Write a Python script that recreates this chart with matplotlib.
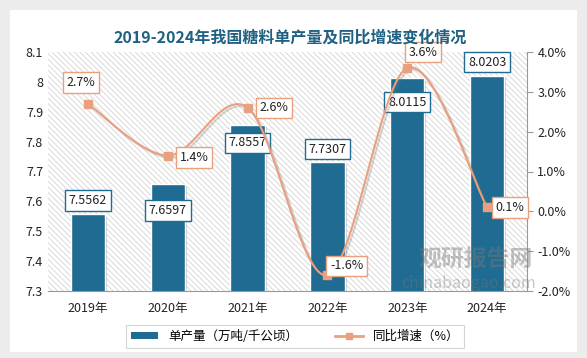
import matplotlib
matplotlib.use("Agg")
import matplotlib.pyplot as plt
import numpy as np
from matplotlib.patches import Rectangle, Patch
from matplotlib.lines import Line2D
import matplotlib.patheffects as pe

plt.rcParams['font.family'] = ['Noto Sans CJK SC', 'DejaVu Sans']
plt.rcParams['hatch.color'] = '#d4d4d4'
plt.rcParams['hatch.linewidth'] = 0.6

years = ['2019年', '2020年', '2021年', '2022年', '2023年', '2024年']
yield_vals = [7.5562, 7.6597, 7.8557, 7.7307, 8.0115, 8.0203]
growth = [2.7, 1.4, 2.6, -1.6, 3.6, 0.1]
left_ticks = [7.3, 7.4, 7.5, 7.6, 7.7, 7.8, 7.9, 8.0, 8.1]
left_labels = ['7.3', '7.4', '7.5', '7.6', '7.7', '7.8', '7.9', '8', '8.1']
right_ticks = [-2, -1, 0, 1, 2, 3, 4]

bar_color = '#1f6b92'
line_color = '#e9a07f'

fig = plt.figure(figsize=(5.87, 3.58), dpi=100)
fig.patch.set_facecolor('#ececec')
fig.add_artist(Rectangle((10/587, 1-352/358), 567/587, 342/358, transform=fig.transFigure,
                         facecolor='white', edgecolor='none', zorder=0))

ax = fig.add_axes([48/587, 1-291/358, 479/587, 239/358])
ax.set_facecolor('white')
ax.patch.set_hatch('\\\\\\\\\\\\')
ax.patch.set_edgecolor('#d4d4d4')
ax.patch.set_linewidth(0)

x = np.arange(len(years))
ax.bar(x, yield_vals, width=0.43, color=bar_color, edgecolor='white', linewidth=1.0, zorder=3,
       path_effects=[pe.SimplePatchShadow(offset=(1.5, -1.5), shadow_rgbFace='#888888', alpha=0.4), pe.Normal()])
ax.set_ylim(7.3, 8.1)
ax.set_xlim(-0.5, len(years) - 0.5)
ax.set_yticks(left_ticks)
ax.set_yticklabels(left_labels)
ax.set_xticks(x)
ax.set_xticklabels(years)
ax.tick_params(axis='both', length=0, labelsize=9, colors='#222222')
ax.tick_params(axis='x', pad=8)
for s in ['top', 'right', 'left']:
    ax.spines[s].set_visible(False)
ax.spines['bottom'].set_color('#999999')

bar_offsets = [0.047, -0.09, -0.06, 0.044, -0.079, 0.046]
for xi, v, off in zip(x, yield_vals, bar_offsets):
    ax.text(xi, v + off, f'{v:.4f}', ha='center', va='center', fontsize=9, color='#222222', zorder=6,
            bbox=dict(boxstyle='square,pad=0.3', facecolor='white', edgecolor=bar_color, linewidth=1))

ax2 = ax.twinx()
ax2.set_ylim(-2, 4)
ax2.set_yticks(right_ticks)
ax2.set_yticklabels([f'{t:.1f}%' for t in right_ticks])
ax2.tick_params(axis='y', length=4, direction='out', labelsize=9, colors='#222222', color='#999999')
for s in ['top', 'left', 'bottom']:
    ax2.spines[s].set_visible(False)
ax2.spines['right'].set_color('#999999')

# smooth line (Catmull-Rom through the data points)
px = np.array(x, dtype=float)
py = np.array(growth, dtype=float)
P = np.column_stack([px, py])
Pe = np.vstack([P[0], P, P[-1]])
sx, sy = [], []
for i in range(1, len(Pe) - 2):
    p0, p1, p2, p3 = Pe[i-1], Pe[i], Pe[i+1], Pe[i+2]
    t = np.linspace(0, 1, 40)[:, None]
    pts = 0.5 * ((2*p1) + (-p0 + p2)*t + (2*p0 - 5*p1 + 4*p2 - p3)*t**2 + (-p0 + 3*p1 - 3*p2 + p3)*t**3)
    sx.extend(pts[:, 0]); sy.extend(pts[:, 1])
ax2.plot(sx, sy, color=line_color, linewidth=1.5, zorder=4,
         path_effects=[pe.SimpleLineShadow(offset=(1.5, -1.5), shadow_color='#777777', alpha=0.3), pe.Normal()])
ax2.plot(px, py, linestyle='none', marker='s', markersize=6, color=line_color, zorder=5)

line_offsets = [(-0.09, 0.53), (0.33, -0.05), (0.33, 0.0), (0.24, 0.23), (0.2, 0.4), (0.29, 0.0)]
for xi, v, (dx, dy) in zip(px, growth, line_offsets):
    ax2.text(xi + dx, v + dy, f'{v:.1f}%', ha='center', va='center', fontsize=9, color='#222222', zorder=6,
             bbox=dict(boxstyle='square,pad=0.3', facecolor='white', edgecolor=line_color, linewidth=1))

fig.text(0.495, 1-38/358, '2019-2024年我国糖料单产量及同比增速变化情况', ha='center', va='center',
         fontsize=11.5, fontweight='bold', color='#1f6183')

# watermark
fig.text(476/587, 1-260/358, '观研报告网', fontsize=16.5, fontweight='bold', color='#777777', alpha=0.45,
         ha='center', va='center', zorder=10)
fig.text(468/587, 1-284/358, 'chinabaogao.com', fontsize=11.5, color='#777777', alpha=0.4,
         ha='center', va='center', zorder=10)

handles = [Patch(facecolor=bar_color, edgecolor='none'),
           Line2D([0], [0], color=line_color, linewidth=2, marker='s', markersize=5)]
leg = fig.legend(handles, ['单产量（万吨/千公顷）', '同比增速（%）'], loc='center',
                 bbox_to_anchor=(295/587, 1-336/358), ncol=2, fontsize=9, frameon=True,
                 fancybox=False, edgecolor='#cccccc', handlelength=2.2, columnspacing=3.0,
                 borderpad=0.4, handleheight=0.5)
leg.get_frame().set_linewidth(0.8)

fig.savefig('out.png', dpi=100, facecolor=fig.get_facecolor())
